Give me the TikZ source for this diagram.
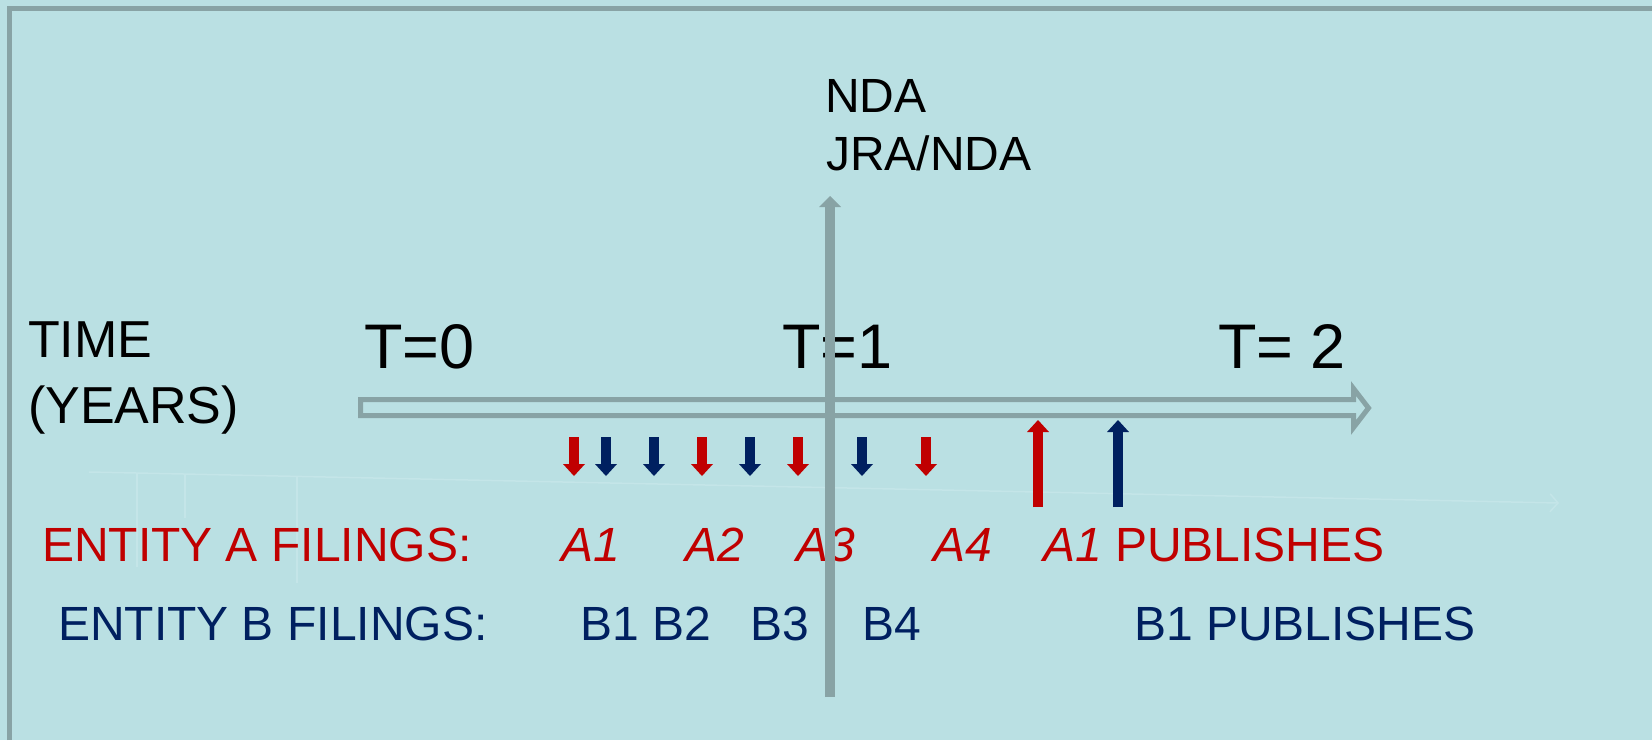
\documentclass[tikz,border=0pt]{standalone}
\usepackage{fontspec}
\setmainfont{Liberation Sans}
\usetikzlibrary{arrows.meta}
\definecolor{bgc}{RGB}{186,224,227}
\definecolor{greyc}{RGB}{136,163,165}
\definecolor{redc}{RGB}{192,0,0}
\definecolor{navyc}{RGB}{0,32,96}
\definecolor{faintc}{RGB}{196,229,232}
\begin{document}
\begin{tikzpicture}[x=1pt,y=-1pt,
  txt/.style={inner sep=0pt, outer sep=0pt, anchor=base west},
  f48/.style={font=\fontsize{48}{58}\selectfont},
  f52/.style={font=\fontsize{52}{63}\selectfont},
  f63/.style={font=\fontsize{63}{75}\selectfont},
  fa48/.style={font=\fontsize{48}{58}\selectfont\itshape},
  tickarrow/.style={draw=#1, line width=10pt,
    -{Triangle[width=22pt,length=12pt,line width=0pt 0 0]}},
  greyarrow/.style={draw=greyc, line width=10pt,
    -{Triangle[width=22pt,length=11pt,line width=0pt 0 0]}},
  faint/.style={draw=faintc, line width=1.5pt}
]
\useasboundingbox (0,0) rectangle (1652,740);
\fill[bgc] (0,0) rectangle (1652,740);
% frame
\draw[greyc, line width=5pt] (9,740) -- (9,8) -- (1652,8);

% faint background remnants
\coordinate (fl0) at (89,472);
\coordinate (fl1) at (1559,503);
\draw[faint, -{Straight Barb[length=8pt,width=18pt]}] (fl0) -- (fl1);
\draw[faint] (137,473) -- (137,567);
\draw[faint] (185,474) -- (185,518);
\draw[faint] (297,476) -- (297,583);

% block time arrow
\draw[greyc, line width=5pt, line join=miter]
  (360.5,399.5) -- (1353.5,399.5) -- (1353.5,388.5) -- (1368.5,408)
  -- (1353.5,427.5) -- (1353.5,415.5) -- (360.5,415.5) -- cycle;

% labels
\node[txt,f52] (time)  at (28,357) {TIME};
\node[txt,f52] (years) at (28,423) {(YEARS)};
\node[txt,f63] (t0) at (364,368) {T=0};
\node[txt,f63] (t1) at (782,368) {T=1};
\node[txt,f63] (t2) at (1218,368) {T= 2};
\node[txt,f48] (nda)  at (825,112) {NDA};
\node[txt,f48] (jra)  at (826,170) {JRA/NDA};

\node[txt,f48,text=redc] (entA) at (42,561) {ENTITY A FILINGS:};
\node[txt,fa48,text=redc] (a1) at (561,561) {A1};
\node[txt,fa48,text=redc] (a2) at (685,561) {A2};
\node[txt,fa48,text=redc] (a3) at (796,561) {A3};
\node[txt,fa48,text=redc] (a4) at (933,561) {A4};
\node[txt,f48,text=redc] (a1p) at (1043,561) {\itshape A1\upshape{} PUBLISHES};

\node[txt,f48,text=navyc] (entB) at (58,640) {ENTITY B FILINGS:};
\node[txt,f48,text=navyc] (b1) at (580,640) {B1};
\node[txt,f48,text=navyc] (b2) at (652,640) {B2};
\node[txt,f48,text=navyc] (b3) at (750,640) {B3};
\node[txt,f48,text=navyc] (b4) at (862,640) {B4};
\node[txt,f48,text=navyc] (b1p) at (1134,640) {B1 PUBLISHES};

% filing arrows (down)
\foreach \x/\c/\n in {574/redc/ra1, 606/navyc/bb1, 654/navyc/bb2, 702/redc/ra2,
                      750/navyc/bb3, 798/redc/ra3, 862/navyc/bb4, 926/redc/ra4} {
  \coordinate (\n s) at (\x,437);
  \coordinate (\n e) at (\x,476);
  \draw[tickarrow=\c] (\n s) -- (\n e);
}
% publication arrows (up)
\coordinate (pubAs) at (1038,507);
\coordinate (pubAe) at (1038,420);
\draw[tickarrow=redc] (pubAs) -- (pubAe);
\coordinate (pubBs) at (1118,507);
\coordinate (pubBe) at (1118,420);
\draw[tickarrow=navyc] (pubBs) -- (pubBe);

% vertical NDA arrow (over the text)
\coordinate (vb0) at (830,697);
\coordinate (vb1) at (830,196);
\draw[greyarrow] (vb0) -- (vb1);
\end{tikzpicture}
\end{document}
